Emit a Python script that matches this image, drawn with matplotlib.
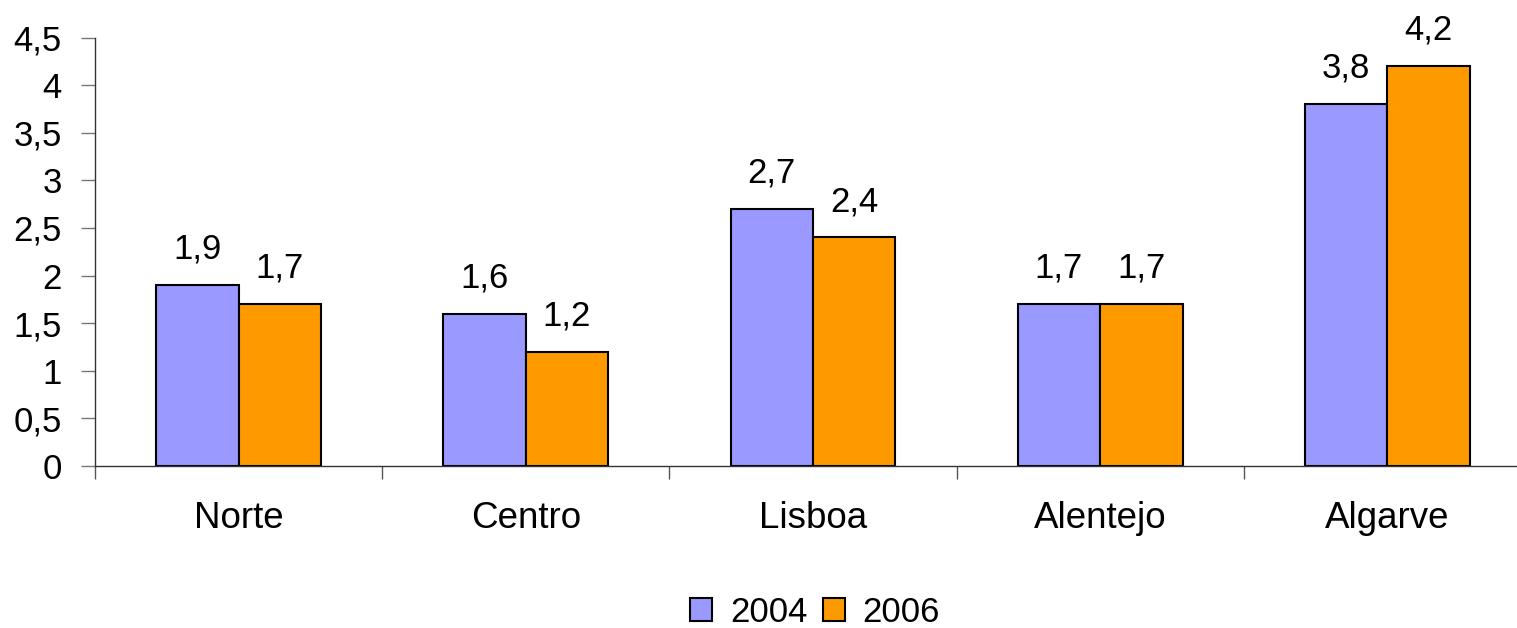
import matplotlib
matplotlib.use("Agg")
from matplotlib import pyplot as plt
import numpy as np

regions = ["Norte", "Centro", "Lisboa", "Alentejo", "Algarve"]
v2004 = [1.9, 1.6, 2.7, 1.7, 3.8]
v2006 = [1.7, 1.2, 2.4, 1.7, 4.2]
yticks = [0, 0.5, 1, 1.5, 2, 2.5, 3, 3.5, 4, 4.5]

plt.rcParams["font.family"] = ["Liberation Sans", "DejaVu Sans"]
fs = 25

W, H = 1517, 628
fig = plt.figure(figsize=(W / 100, H / 100), dpi=100)
x0, x1 = 95, 1531
y0, y1 = 466, 37.5
ax = fig.add_axes([x0 / W, 1 - y0 / H, (x1 - x0) / W, (y0 - y1) / H])

x = np.arange(len(regions))
bw = 0.287
b1 = ax.bar(x - bw / 2, v2004, bw, color="#9999FF", edgecolor="black", linewidth=1.5, label="2004")
b2 = ax.bar(x + bw / 2, v2006, bw, color="#FF9900", edgecolor="black", linewidth=1.5, label="2006")

for bars, vals in ((b1, v2004), (b2, v2006)):
    for b, v in zip(bars, vals):
        ax.annotate(str(v).replace(".", ","), (b.get_x() + b.get_width() / 2, v),
                    xytext=(0, 14), textcoords="offset points",
                    ha="center", va="bottom", fontsize=fs)

ax.set_xlim(-0.5, len(regions) - 0.5)
ax.set_ylim(0, 4.5)
ax.set_yticks(yticks)
ax.set_yticklabels([str(t).replace(".", ",") if t % 1 else str(int(t)) for t in yticks], fontsize=fs)
ax.set_xticks(np.arange(len(regions) + 1) - 0.5)
ax.set_xticklabels([])
ax.set_xticks(x, minor=True)
ax.set_xticklabels(regions, minor=True, fontsize=26.5)
ax.tick_params(axis="x", which="minor", length=0, pad=25)
ax.tick_params(axis="x", which="major", length=9, width=1, color="#555555")
ax.tick_params(axis="y", length=10, width=1, color="#777777", pad=14)

for s in ("top", "right"):
    ax.spines[s].set_visible(False)
for s in ("left", "bottom"):
    ax.spines[s].set_color("#333333")
    ax.spines[s].set_linewidth(1)

fig.legend(handles=[b1, b2], loc="center", bbox_to_anchor=(815 / W, 1 - 612 / H),
           ncol=2, frameon=False, fontsize=fs, handlelength=0.65, handleheight=0.65,
           handletextpad=0.5, columnspacing=0.45)

fig.savefig("out.png", dpi=100)
